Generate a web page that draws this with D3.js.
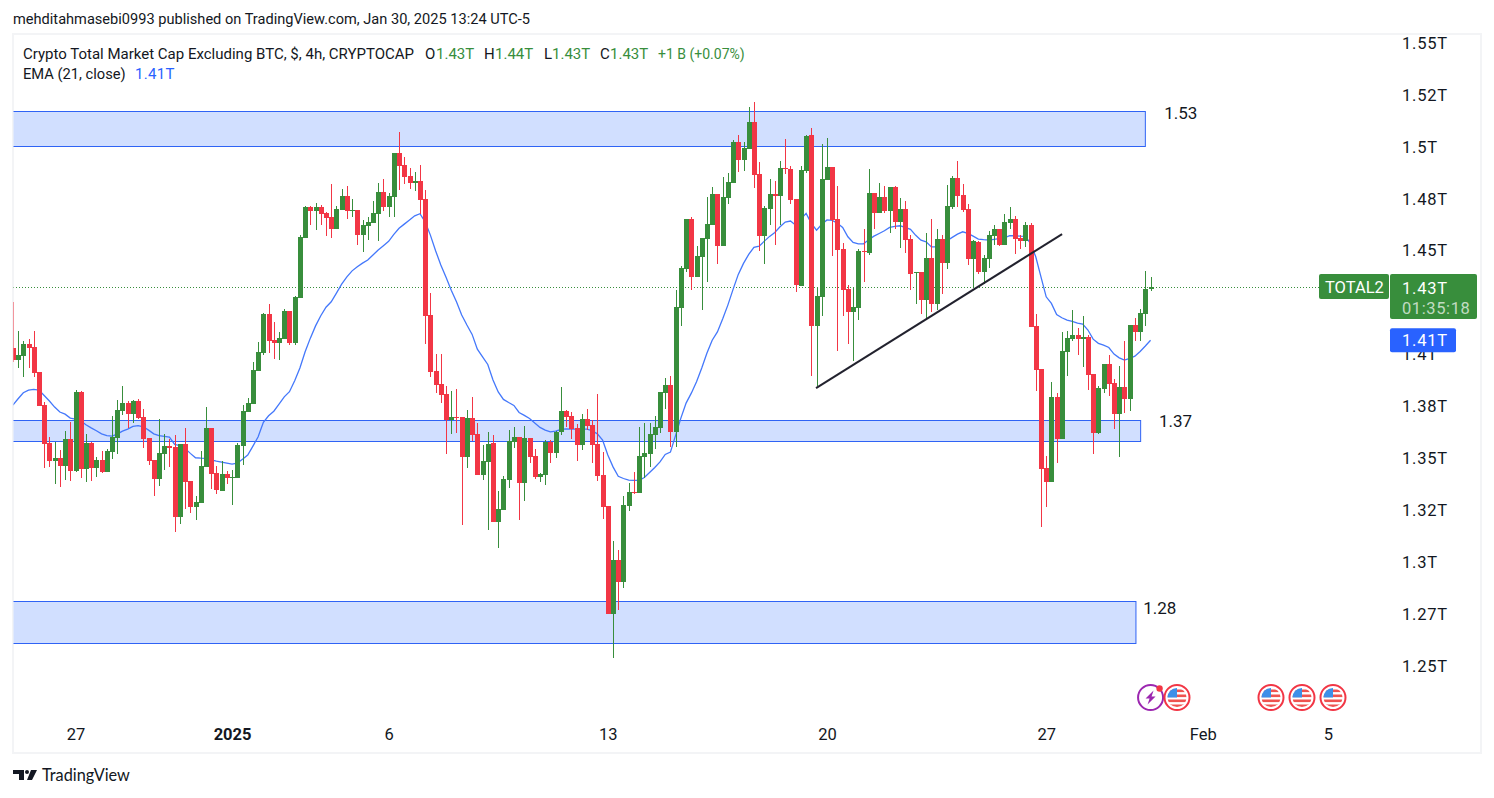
<!DOCTYPE html>
<html>
<head>
<meta charset="utf-8">
<title>TOTAL2</title>
<script src="https://cdn.jsdelivr.net/npm/d3@7/dist/d3.min.js"></script>
<style>
  html, body { margin: 0; padding: 0; background: #fff; }
  svg { display: block; font-family: Roboto, sans-serif; }
</style>
</head>
<body>
<svg id="chart" width="1494" height="798"></svg>
<script>
// 4h candles, first one is Dec 25 2024 00:00
var firstCandle = new Date(Date.UTC(2024, 11, 25));

var opens = [1.4026,1.3968,1.3987,1.4045,1.4031,1.3910,1.3751,1.3568,1.3482,1.3496,
1.3458,1.3588,1.3433,1.3814,1.3443,1.3568,1.3448,1.3487,1.3429,1.3525,
1.3592,1.3722,1.3761,1.3708,1.3771,1.3694,1.3592,1.3487,1.3395,1.3515,
1.3554,1.3549,1.3212,1.3564,1.3385,1.3260,1.3279,1.3453,1.3641,1.3424,
1.3337,1.3419,1.3400,1.3400,1.3554,1.3718,1.3756,1.3915,1.4002,1.4190,
1.4064,1.4050,1.4069,1.4204,1.4050,1.4267,1.4556,1.4705,1.4686,1.4705,
1.4676,1.4657,1.4599,1.4691,1.4758,1.4686,1.4691,1.4570,1.4614,1.4628,
1.4671,1.4777,1.4705,1.4753,1.4965,1.4907,1.4854,1.4821,1.4830,1.4744,
1.4185,1.3915,1.3853,1.3804,1.3679,1.3694,1.3694,1.3501,1.3689,1.3612,
1.3414,1.3477,1.3568,1.3188,1.3246,1.3390,1.3573,1.3597,1.3376,1.3592,
1.3506,1.3405,1.3414,1.3573,1.3520,1.3621,1.3722,1.3698,1.3641,1.3559,
1.3684,1.3655,1.3564,1.3414,1.3265,1.2745,1.3005,1.2899,1.3265,1.3332,
1.3328,1.3501,1.3515,1.3607,1.3641,1.3809,1.3848,1.3621,1.4219,1.4406,
1.4647,1.4368,1.4464,1.4551,1.4618,1.4768,1.4517,1.4748,1.4821,1.5018,
1.4932,1.4985,1.5115,1.4864,1.4565,1.4696,1.4768,1.4758,1.4893,1.4888,
1.4744,1.4325,1.4879,1.5052,1.4132,1.4272,1.4835,1.4898,1.4647,1.4503,
1.4310,1.4199,1.4219,1.4493,1.4484,1.4773,1.4676,1.4753,1.4686,1.4801,
1.4633,1.4696,1.4551,1.4387,1.4392,1.4257,1.4460,1.4238,1.4551,1.4435,
1.4705,1.4845,1.4763,1.4696,1.4455,1.4537,1.4392,1.4455,1.4565,1.4599,
1.4522,1.4628,1.4647,1.4556,1.4541,1.4618,1.4132,1.3925,1.3448,1.3380,
1.3790,1.3588,1.4007,1.4069,1.4089,1.4069,1.4079,1.3901,1.3617,1.3828,
1.3949,1.3857,1.3708,1.3838,1.3780,1.4137,1.4103,1.4190,1.4310];

var highs = [1.4248,1.4108,1.4060,1.4069,1.4108,1.3910,1.3766,1.3597,1.3573,1.3535,
1.3626,1.3669,1.3824,1.3819,1.3612,1.3573,1.3501,1.3530,1.3539,1.3698,
1.3776,1.3843,1.3771,1.3776,1.3780,1.3732,1.3592,1.3487,1.3684,1.3612,
1.3588,1.3607,1.3564,1.3641,1.3385,1.3313,1.3530,1.3742,1.3641,1.3458,
1.3482,1.3433,1.3438,1.3568,1.3751,1.3785,1.3959,1.4055,1.4195,1.4238,
1.4151,1.4103,1.4214,1.4204,1.4276,1.4570,1.4710,1.4710,1.4724,1.4715,
1.4681,1.4816,1.4710,1.4792,1.4806,1.4744,1.4691,1.4642,1.4657,1.4734,
1.4821,1.4840,1.4773,1.4965,1.5066,1.4946,1.4893,1.4874,1.4907,1.4787,
1.4291,1.3997,1.3997,1.3843,1.3819,1.3828,1.3694,1.3727,1.3790,1.3665,
1.3559,1.3621,1.3607,1.3337,1.3409,1.3631,1.3645,1.3597,1.3650,1.3592,
1.3539,1.3424,1.3583,1.3583,1.3626,1.3838,1.3727,1.3718,1.3660,1.3708,
1.3732,1.3679,1.3804,1.3525,1.3265,1.3096,1.3053,1.3313,1.3376,1.3429,
1.3645,1.3665,1.3665,1.3698,1.3814,1.3881,1.3891,1.4305,1.4421,1.4647,
1.4657,1.4517,1.4556,1.4753,1.4801,1.4768,1.4850,1.4869,1.5028,1.5052,
1.5018,1.5187,1.5211,1.4922,1.4710,1.4840,1.4830,1.4927,1.5033,1.4903,
1.4744,1.4903,1.5052,1.5086,1.4320,1.5009,1.5038,1.4898,1.4806,1.4532,
1.4329,1.4315,1.4503,1.4599,1.4888,1.4773,1.4821,1.4806,1.4801,1.4806,
1.4748,1.4734,1.4570,1.4392,1.4392,1.4580,1.4647,1.4599,1.4570,1.4811,
1.4854,1.4927,1.4816,1.4720,1.4546,1.4541,1.4474,1.4590,1.4618,1.4599,
1.4671,1.4705,1.4662,1.4570,1.4633,1.4628,1.4190,1.3925,1.3506,1.3862,
1.3809,1.4103,1.4108,1.4209,1.4122,1.4180,1.4089,1.3901,1.3843,1.3949,
1.3992,1.3877,1.3939,1.4060,1.4137,1.4170,1.4214,1.4397,1.4368];

var lows = [1.3959,1.3930,1.3886,1.3930,1.3886,1.3747,1.3448,1.3453,1.3371,1.3356,
1.3390,1.3385,1.3429,1.3400,1.3380,1.3385,1.3405,1.3424,1.3429,1.3491,
1.3515,1.3703,1.3641,1.3665,1.3684,1.3544,1.3462,1.3313,1.3361,1.3438,
1.3453,1.3140,1.3178,1.3251,1.3231,1.3198,1.3279,1.3453,1.3347,1.3323,
1.3337,1.3371,1.3270,1.3400,1.3462,1.3718,1.3756,1.3915,1.3992,1.4002,
1.3973,1.3968,1.4069,1.4040,1.4040,1.4267,1.4556,1.4618,1.4594,1.4618,
1.4565,1.4556,1.4599,1.4691,1.4647,1.4657,1.4522,1.4488,1.4546,1.4628,
1.4541,1.4686,1.4657,1.4657,1.4787,1.4816,1.4792,1.4782,1.4671,1.4045,
1.3886,1.3809,1.3761,1.3515,1.3612,1.3617,1.3173,1.3448,1.3578,1.3414,
1.3390,1.3149,1.3188,1.3063,1.3246,1.3352,1.3544,1.3198,1.3289,1.3472,
1.3395,1.3380,1.3366,1.3472,1.3496,1.3607,1.3645,1.3588,1.3482,1.3535,
1.3631,1.3472,1.3385,1.3202,1.2745,1.2533,1.2764,1.2870,1.3241,1.3323,
1.3328,1.3400,1.3453,1.3539,1.3617,1.3732,1.3549,1.3549,1.4132,1.4392,
1.4305,1.4368,1.4209,1.4344,1.4618,1.4431,1.4517,1.4720,1.4821,1.4874,
1.4879,1.4985,1.4797,1.4493,1.4431,1.4618,1.4522,1.4618,1.4864,1.4720,
1.4296,1.4325,1.4869,1.3891,1.3843,1.4180,1.4835,1.4469,1.4011,1.4180,
1.4045,1.3963,1.4161,1.4344,1.4474,1.4599,1.4676,1.4676,1.4580,1.4599,
1.4508,1.4484,1.4305,1.4238,1.4190,1.4161,1.4199,1.4209,1.4286,1.4406,
1.4696,1.4705,1.4681,1.4426,1.4315,1.4382,1.4334,1.4411,1.4522,1.4517,
1.4522,1.4599,1.4479,1.4503,1.4512,1.4127,1.3819,1.3164,1.3260,1.3380,
1.3472,1.3588,1.3891,1.4060,1.3992,1.3934,1.3824,1.3515,1.3612,1.3809,
1.3795,1.3636,1.3501,1.3713,1.3722,1.4060,1.4060,1.4132,1.4300];

var closes = [1.3968,1.3992,1.4045,1.4026,1.3905,1.3747,1.3564,1.3482,1.3496,1.3458,
1.3588,1.3433,1.3814,1.3443,1.3568,1.3448,1.3487,1.3429,1.3530,1.3597,
1.3727,1.3761,1.3708,1.3771,1.3689,1.3588,1.3482,1.3395,1.3520,1.3554,
1.3544,1.3212,1.3564,1.3380,1.3260,1.3284,1.3458,1.3641,1.3419,1.3342,
1.3419,1.3400,1.3405,1.3559,1.3722,1.3761,1.3920,1.4007,1.4190,1.4060,
1.4050,1.4074,1.4204,1.4050,1.4272,1.4561,1.4705,1.4686,1.4705,1.4671,
1.4652,1.4599,1.4696,1.4758,1.4686,1.4691,1.4570,1.4618,1.4633,1.4676,
1.4777,1.4705,1.4758,1.4965,1.4903,1.4850,1.4821,1.4830,1.4739,1.4180,
1.3910,1.3848,1.3800,1.3679,1.3694,1.3689,1.3501,1.3689,1.3607,1.3414,
1.3482,1.3564,1.3188,1.3251,1.3395,1.3578,1.3597,1.3376,1.3592,1.3501,
1.3405,1.3419,1.3573,1.3520,1.3621,1.3722,1.3694,1.3636,1.3559,1.3684,
1.3650,1.3559,1.3409,1.3260,1.2745,1.3005,1.2899,1.3270,1.3332,1.3328,
1.3506,1.3520,1.3612,1.3645,1.3814,1.3848,1.3621,1.4223,1.4411,1.4647,
1.4368,1.4469,1.4556,1.4623,1.4768,1.4517,1.4753,1.4826,1.5018,1.4932,
1.4989,1.5115,1.4859,1.4565,1.4700,1.4768,1.4758,1.4893,1.4888,1.4739,
1.4329,1.4883,1.5047,1.4132,1.4276,1.4840,1.4898,1.4642,1.4498,1.4305,
1.4199,1.4223,1.4493,1.4488,1.4773,1.4676,1.4753,1.4686,1.4801,1.4633,
1.4696,1.4546,1.4382,1.4392,1.4257,1.4460,1.4238,1.4551,1.4435,1.4710,
1.4845,1.4758,1.4691,1.4455,1.4541,1.4392,1.4460,1.4570,1.4599,1.4522,
1.4633,1.4647,1.4551,1.4541,1.4618,1.4127,1.3920,1.3443,1.3380,1.3790,
1.3588,1.4011,1.4074,1.4089,1.4069,1.4079,1.3896,1.3617,1.3833,1.3949,
1.3853,1.3708,1.3838,1.3780,1.4137,1.4103,1.4195,1.4310,1.4320];

// EMA (21, close), one value per candle
var emaValues = [1.3751,1.3782,1.3811,1.3824,1.3827,1.3824,1.3798,1.3771,1.3742,1.3718,
1.3708,1.3689,1.3684,1.3676,1.3657,1.3642,1.3628,1.3613,1.3605,1.3602,
1.3612,1.3626,1.3636,1.3649,1.3653,1.3647,1.3631,1.3613,1.3605,1.3601,
1.3597,1.3562,1.3557,1.3543,1.3519,1.3498,1.3496,1.3495,1.3488,1.3482,
1.3477,1.3472,1.3467,1.3472,1.3491,1.3511,1.3554,1.3599,1.3669,1.3700,
1.3722,1.3756,1.3791,1.3816,1.3869,1.3930,1.4008,1.4074,1.4133,1.4182,
1.4223,1.4249,1.4291,1.4334,1.4369,1.4398,1.4418,1.4435,1.4450,1.4474,
1.4498,1.4519,1.4540,1.4574,1.4603,1.4623,1.4643,1.4663,1.4673,1.4634,
1.4570,1.4495,1.4426,1.4367,1.4305,1.4249,1.4185,1.4137,1.4092,1.4021,
1.3984,1.3947,1.3872,1.3815,1.3779,1.3764,1.3750,1.3716,1.3702,1.3687,
1.3665,1.3644,1.3631,1.3623,1.3626,1.3634,1.3637,1.3636,1.3636,1.3636,
1.3636,1.3628,1.3613,1.3583,1.3511,1.3454,1.3409,1.3398,1.3390,1.3389,
1.3389,1.3403,1.3427,1.3451,1.3478,1.3514,1.3525,1.3607,1.3689,1.3761,
1.3809,1.3864,1.3930,1.4002,1.4064,1.4104,1.4166,1.4233,1.4309,1.4381,
1.4434,1.4477,1.4511,1.4517,1.4541,1.4564,1.4583,1.4610,1.4633,1.4638,
1.4618,1.4647,1.4675,1.4627,1.4594,1.4622,1.4643,1.4641,1.4627,1.4607,
1.4562,1.4535,1.4528,1.4528,1.4548,1.4565,1.4578,1.4591,1.4607,1.4612,
1.4615,1.4607,1.4598,1.4569,1.4546,1.4538,1.4513,1.4513,1.4526,1.4543,
1.4559,1.4575,1.4586,1.4578,1.4565,1.4551,1.4548,1.4546,1.4550,1.4553,
1.4557,1.4567,1.4567,1.4565,1.4564,1.4530,1.4466,1.4369,1.4273,1.4241,
1.4188,1.4172,1.4161,1.4155,1.4146,1.4142,1.4113,1.4069,1.4049,1.4040,
1.4029,1.3997,1.3979,1.3968,1.3976,1.3987,1.4010,1.4036,1.4064];

// the 1.425 tick sits under the price tag in the picture, so it is left out
var priceTicks = [1.55,1.525,1.5,1.475,1.45,1.4,1.375,1.35,1.325,1.3,1.275,1.25];
var priceLabels = ["1.55T","1.52T","1.5T","1.48T","1.45T","1.4T","1.38T","1.35T","1.32T","1.3T","1.27T","1.25T"];
var dateTicks = [new Date(Date.UTC(2024,11,27)), new Date(Date.UTC(2025,0,1)), new Date(Date.UTC(2025,0,6)),
                 new Date(Date.UTC(2025,0,13)), new Date(Date.UTC(2025,0,20)), new Date(Date.UTC(2025,0,27)),
                 new Date(Date.UTC(2025,1,1)), new Date(Date.UTC(2025,1,5))];
var dateLabels = ["27","2025","6","13","20","27","Feb","5"];

// support / resistance boxes: price top, price bottom, candle index of the right edge, label
var zoneTops = [1.5166,1.3678,1.2810];
var zoneBottoms = [1.4997,1.3581,1.2604];
var zoneEnds = [217,216.1,215.2];
var zoneLabels = ["1.53","1.37","1.28"];
var zoneLabelEnds = [220.6,219.6,216.6];

// hand drawn trend line
var trendIndex = [153.9,201.05];
var trendPrice = [1.3833,1.4575];

var lastPrice = 1.4320;
var emaLast = 1.4064;
var flagEvents = [223,241,247,253];
var lightningEvent = 218;

var width = 1494, height = 798;
var svg = d3.select("#chart");

var x = d3.scaleUtc()
    .domain([dateTicks[0], dateTicks[dateTicks.length-1]])
    .range([75.5,1328]);
var y = d3.scaleLinear().domain([1.25,1.55]).range([665,42]);

function xi(i){ return x(new Date(firstCandle.getTime() + i*4*3600*1000)); }

var GREEN = "#388e3c", RED = "#f23645", BLUE = "#2962ff", INK = "#131722";

var candles = d3.range(opens.length).map(function(i){
    return {i:i, o:opens[i], h:highs[i], l:lows[i], c:closes[i]};
});

svg.append("rect").attr("width",width).attr("height",height).attr("fill","#fff");

// frame around the chart
svg.append("rect").attr("x",13).attr("y",34).attr("width",1468).attr("height",719)
    .attr("fill","#fff").attr("stroke","#f3f4f6").attr("stroke-width",2);

svg.append("defs").append("clipPath").attr("id","pane")
    .append("rect").attr("x",13.5).attr("y",35).attr("width",1467).attr("height",680);

var pane = svg.append("g").attr("clip-path","url(#pane)");

// zones
var zones = pane.append("g");
zoneTops.forEach(function(t,k){
    var top = Math.round(y(t))+0.5, bottom = Math.round(y(zoneBottoms[k]))+0.5;
    zones.append("rect")
        .attr("x",12).attr("y",top)
        .attr("width",xi(zoneEnds[k])-12).attr("height",bottom-top)
        .attr("fill","#d1dfff").attr("stroke","#2f63f5").attr("stroke-width",1);
});

// last price dotted line
pane.append("line")
    .attr("x1",13).attr("x2",1319)
    .attr("y1",Math.round(y(lastPrice))+0.5).attr("y2",Math.round(y(lastPrice))+0.5)
    .attr("stroke",GREEN).attr("stroke-width",1).attr("stroke-dasharray","1 2");

// EMA goes under the candles
var emaLine = d3.line()
    .x(function(d,i){ return xi(i); })
    .y(function(d){ return y(d); });
pane.append("path").datum(emaValues)
    .attr("d",emaLine).attr("fill","none")
    .attr("stroke","#4478fb").attr("stroke-width",1.3);

// wicks then bodies
var candleG = pane.append("g");
var one = candleG.selectAll("g").data(candles).enter().append("g")
    .attr("fill",function(d){ return d.c>=d.o ? GREEN : RED; });
one.append("rect")
    .attr("x",function(d){ return Math.round(xi(d.i)); })
    .attr("width",1)
    .attr("y",function(d){ return Math.round(y(d.h)); })
    .attr("height",function(d){ return Math.max(1,Math.round(y(d.l))-Math.round(y(d.h))); });
one.append("rect")
    .attr("x",function(d){ return Math.round(xi(d.i))-2; })
    .attr("width",5)
    .attr("y",function(d){ return Math.round(y(Math.max(d.o,d.c))); })
    .attr("height",function(d){ return Math.max(1,Math.round(y(Math.min(d.o,d.c)))-Math.round(y(Math.max(d.o,d.c)))); });

// trend line
pane.append("line")
    .attr("x1",xi(trendIndex[0])).attr("y1",y(trendPrice[0]))
    .attr("x2",xi(trendIndex[1])).attr("y2",y(trendPrice[1]))
    .attr("stroke","#22222e").attr("stroke-width",2);

// zone labels
svg.append("g").selectAll("text").data(zoneLabels).enter().append("text")
    .attr("x",function(d,k){ return xi(zoneLabelEnds[k]); })
    .attr("y",function(d,k){ return y(zoneTops[k]) + (k==0?8:(k==1?7:13)); })
    .attr("font-size",17).attr("fill",INK)
    .text(function(d){ return d; });

// price axis
var yAxis = d3.axisRight(y).tickValues(priceTicks).tickSize(0).tickPadding(0)
    .tickFormat(function(d,i){ return priceLabels[i]; });
var yG = svg.append("g").attr("transform","translate(1402,1)").call(yAxis);
yG.select(".domain").remove();
yG.selectAll("text").attr("font-family","Roboto, sans-serif").attr("font-size",16.5)
    .attr("letter-spacing","0.8px").attr("fill",INK);

// date axis
var xAxis = d3.axisBottom(x).tickValues(dateTicks).tickSize(0).tickPadding(0)
    .tickFormat(function(d,i){ return dateLabels[i]; });
var xG = svg.append("g").attr("transform","translate(0,728)").call(xAxis);
xG.select(".domain").remove();
xG.selectAll("text").attr("font-family","Roboto, sans-serif").attr("font-size",16.5).attr("fill",INK)
    .attr("font-weight",function(d,i){ return dateLabels[i]=="2025" ? "bold" : null; });

// price tags on the right
function tag(xp,yp,w,h,col,rad){
    svg.append("rect").attr("x",xp).attr("y",yp).attr("width",w).attr("height",h).attr("rx",rad).attr("fill",col);
}
var lastY = y(lastPrice);
tag(1319,lastY-13,70,25,GREEN,2);
tag(1390,lastY-13,87,45,GREEN,2);
tag(1390,y(emaLast)-12,66,24,BLUE,2);
svg.append("text").attr("x",1325).attr("y",lastY+6).attr("font-size",16.5)
    .attr("fill","#fff").text("TOTAL2");
svg.append("text").attr("x",1402).attr("y",lastY+6.5).attr("font-size",16.5).attr("letter-spacing","0.8px").attr("fill","#fff").text("1.43T");
svg.append("text").attr("x",1402).attr("y",lastY+26.5).attr("font-size",16.5).attr("letter-spacing","0.6px").attr("fill","#fff").attr("fill-opacity",0.7).text("01:35:18");
svg.append("text").attr("x",1402).attr("y",y(emaLast)+6).attr("font-size",16.5).attr("letter-spacing","0.8px").attr("fill","#fff").text("1.41T");

// header and legend
svg.append("text").attr("x",13).attr("y",24).attr("font-size",14.6).attr("fill",INK)
    .text("mehditahmasebi0993 published on TradingView.com, Jan 30, 2025 13:24 UTC-5");

var legendParts = [
    ["Crypto Total Market Cap Excluding BTC, $, 4h, CRYPTOCAP",23,INK,15],
    ["O",425,INK,15],["1.43T",436,GREEN,15],
    ["H",484,INK,15],["1.44T",495,GREEN,15],
    ["L",544,INK,15],["1.43T",552,GREEN,15],
    ["C",600,INK,15],["1.43T",610,GREEN,15],
    ["+1 B (+0.07%)",658,GREEN,14]
];
svg.append("g").selectAll("text").data(legendParts).enter().append("text")
    .attr("x",function(d){ return d[1]; }).attr("y",59).attr("font-size",function(d){ return d[3]; })
    .attr("fill",function(d){ return d[2]; }).text(function(d){ return d[0]; });
svg.append("text").attr("x",23).attr("y",79).attr("font-size",14.7).attr("fill",INK).text("EMA (21, close)");
svg.append("text").attr("x",135).attr("y",79).attr("font-size",15).attr("letter-spacing","0.3px").attr("fill",BLUE).text("1.41T");

// event icons under the chart
function flag(cx,cy){
    var g = svg.append("g").attr("transform","translate("+cx+","+cy+")");
    g.append("circle").attr("r",12.5).attr("fill","#fff").attr("stroke","#f23645").attr("stroke-width",2);
    g.append("clipPath").attr("id","f"+cx).append("circle").attr("r",9.5);
    var inner = g.append("g").attr("clip-path","url(#f"+cx+")");
    [-8,-3,2,7].forEach(function(s){
        inner.append("rect").attr("x",-10).attr("y",s).attr("width",20).attr("height",2.6).attr("fill","#ef5350");
    });
    inner.append("rect").attr("x",-10).attr("y",-10).attr("width",10).attr("height",10).attr("fill","#3d8fe8");
}

var lx = xi(lightningEvent);
var lg = svg.append("g").attr("transform","translate("+lx+",697.5)");
lg.append("circle").attr("r",12.5).attr("fill","#fff").attr("stroke","#9c27b0").attr("stroke-width",2);
lg.append("path").attr("d","M3,-7 L-5,1 L-1,1 L-3,7 L5,-1 L1,-1 Z").attr("fill","#9c27b0");
lg.append("circle").attr("cx",9).attr("cy",-9).attr("r",3.2).attr("fill","#f23645");
flagEvents.forEach(function(i){ flag(Math.round(xi(i)),697.5); });

// TradingView logo
svg.append("path").attr("fill",INK)
    .attr("d","M13 770h11v10h-5v-6h-6z M31 770h6l-5 10h-5z");
svg.append("circle").attr("cx",27).attr("cy",772).attr("r",2).attr("fill",INK);
svg.append("text").attr("x",42).attr("y",781).attr("font-family","Lato, sans-serif").attr("font-size",16.3).attr("fill",INK).text("TradingView");
</script>
</body>
</html>
